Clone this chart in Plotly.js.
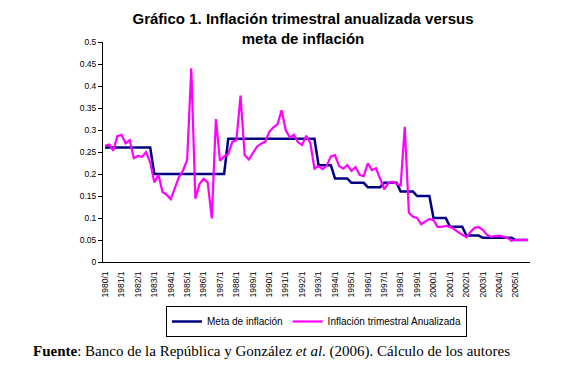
<!DOCTYPE html>
<html>
<head>
<meta charset="utf-8">
<script src="https://cdn.plot.ly/plotly-3.0.1.min.js"></script>
<style>html,body{margin:0;padding:0;background:#fff}#chart{width:570px;height:372px}</style>
</head>
<body>
<div id="chart"></div>
<script>
// Quarters 1980/1 .. 2005/4
const years = [1980,1981,1982,1983,1984,1985,1986,1987,1988,1989,1990,1991,1992,1993,1994,1995,1996,1997,1998,1999,2000,2001,2002,2003,2004,2005];
const quarterNums = [1,2,3,4];
const quarters = [];
years.forEach(y => quarterNums.forEach(q => quarters.push(y + '/' + q)));

// Meta de inflación (target), one value per quarter
const meta = [
  0.26,0.26,0.26,0.26, 0.26,0.26,0.26,0.26, 0.26,0.26,0.26,0.26,   // 1980-1982
  0.20,0.20,0.20,0.20, 0.20,0.20,0.20,0.20, 0.20,0.20,0.20,0.20,   // 1983-1985
  0.20,0.20,0.20,0.20, 0.20,0.20,0.28,0.28,                        // 1986-1987
  0.28,0.28,0.28,0.28, 0.28,0.28,0.28,0.28, 0.28,0.28,0.28,0.28,   // 1988-1990
  0.28,0.28,0.28,0.28, 0.28,0.28,0.28,0.28,                        // 1991-1992
  0.22,0.22,0.22,0.22,                                             // 1993
  0.19,0.19,0.19,0.19,                                             // 1994
  0.18,0.18,0.18,0.18,                                             // 1995
  0.17,0.17,0.17,0.17,                                             // 1996
  0.18,0.18,0.18,0.18,                                             // 1997
  0.16,0.16,0.16,0.16,                                             // 1998
  0.15,0.15,0.15,0.15,                                             // 1999
  0.10,0.10,0.10,0.10,                                             // 2000
  0.08,0.08,0.08,0.08,                                             // 2001
  0.06,0.06,0.06,0.06,                                             // 2002
  0.055,0.055,0.055,0.055,                                         // 2003
  0.055,0.055,0.055,0.055,                                         // 2004
  0.05,0.05,0.05,0.05                                              // 2005
];

// Inflación trimestral anualizada
const inflacion = [
  0.264,0.267,0.253,0.286, 0.289,0.270,0.277,0.236,   // 1980-1981
  0.241,0.239,0.250,0.226, 0.181,0.198,0.159,0.153,   // 1982-1983
  0.143,0.167,0.193,0.208, 0.232,0.440,0.144,0.177,   // 1984-1985
  0.189,0.181,0.099,0.325, 0.230,0.240,0.245,0.273,   // 1986-1987
  0.277,0.378,0.243,0.233, 0.247,0.262,0.269,0.273,   // 1988-1989
  0.296,0.306,0.313,0.345, 0.300,0.283,0.289,0.272,   // 1990-1991
  0.266,0.287,0.270,0.212, 0.218,0.211,0.219,0.240,   // 1992-1993
  0.243,0.218,0.212,0.220, 0.207,0.216,0.198,0.195,   // 1994-1995
  0.224,0.209,0.213,0.190, 0.165,0.180,0.182,0.178,   // 1996-1997
  0.174,0.307,0.112,0.103, 0.100,0.086,0.093,0.098,   // 1998-1999
  0.095,0.080,0.080,0.082, 0.080,0.075,0.068,0.062,   // 2000-2001
  0.056,0.068,0.078,0.079, 0.073,0.062,0.057,0.059,   // 2002-2003
  0.060,0.057,0.055,0.048, 0.050,0.050,0.051,0.050    // 2004-2005
];

const xTickLabels = quarters.filter(q => q.endsWith('/1'));
const yTicks = [0,0.05,0.1,0.15,0.2,0.25,0.3,0.35,0.4,0.45,0.5];

const FONT = 'Liberation Sans, Arial, sans-serif';

const traces = [
  {x: quarters, y: meta, type: 'scatter', mode: 'lines', name: 'Meta de inflación',
   line: {color: '#000080', width: 2.5}},
  {x: quarters, y: inflacion, type: 'scatter', mode: 'lines', name: 'Inflación trimestral Anualizada',
   line: {color: '#FF00FF', width: 2.2}}
];

const layout = {
  width: 570, height: 372,
  margin: {l: 103, r: 40, t: 42, b: 110},
  paper_bgcolor: '#fff', plot_bgcolor: '#fff',
  font: {family: FONT, color: '#000'},
  title: {
    text: '<b>Gráfico 1. Inflación trimestral anualizada versus<br>meta de inflación</b>',
    font: {family: FONT, size: 15, color: '#000'},
    xref: 'container', x: 303/570, xanchor: 'center',
    yref: 'container', y: 1 - 24/372, yanchor: 'top'
  },
  xaxis: {
    type: 'category',
    range: [-0.5, quarters.length - 0.5],
    tickmode: 'array', tickvals: xTickLabels, ticktext: xTickLabels,
    ticks: '', ticklabelstandoff: 5,
    tickangle: -90,
    tickfont: {family: FONT, size: 8.5, color: '#000'},
    showline: true, linecolor: '#000', linewidth: 1,
    showgrid: false, zeroline: false, fixedrange: true
  },
  xaxis2: {
    overlaying: 'x', anchor: 'y', side: 'bottom',
    range: [-0.5, quarters.length - 0.5],
    tickmode: 'linear', tick0: -0.5, dtick: 1,
    ticks: 'outside', ticklen: 4, tickcolor: '#000', tickwidth: 1,
    showticklabels: false, showline: false,
    showgrid: false, zeroline: false, fixedrange: true
  },
  yaxis: {
    range: [0, 0.5],
    tickmode: 'array', tickvals: yTicks, ticktext: yTicks.map(String),
    ticks: 'outside', ticklen: 4, tickcolor: '#000', tickwidth: 1,
    tickfont: {family: FONT, size: 8.5, color: '#000'},
    showline: true, linecolor: '#000', linewidth: 1,
    showgrid: false, zeroline: false, fixedrange: true
  },
  showlegend: true,
  legend: {
    orientation: 'h', x: 0.5, xanchor: 'center', y: -0.2, yanchor: 'top',
    bordercolor: '#000', borderwidth: 1, bgcolor: '#fff',
    font: {family: FONT, size: 10, color: '#000'},
    itemwidth: 30, tracegroupgap: 0
  },
  annotations: [{
    xref: 'paper', yref: 'paper', x: (31 - 103) / 427, y: (262 - 351) / 220,
    xanchor: 'left', yanchor: 'middle', showarrow: false,
    text: '<b>Fuente</b>: Banco de la República y González <i>et al</i>. (2006). Cálculo de los autores',
    font: {family: 'Liberation Serif, Times New Roman, serif', size: 15, color: '#000'}
  }]
};

Plotly.newPlot('chart', traces, layout, {staticPlot: true, displayModeBar: false});
</script>
</body>
</html>
